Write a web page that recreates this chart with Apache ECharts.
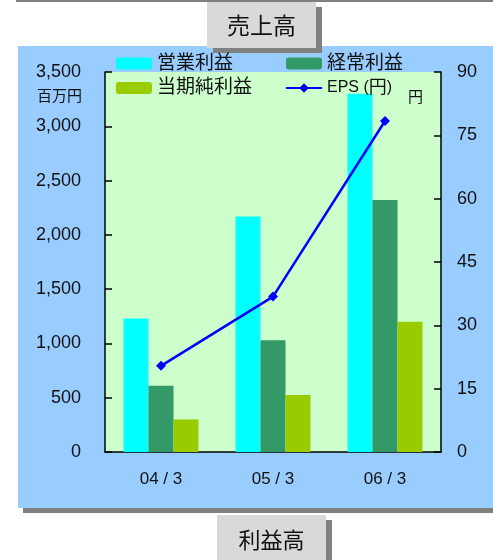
<!DOCTYPE html>
<html>
<head>
<meta charset="utf-8">
<script src="https://cdn.jsdelivr.net/npm/echarts@6/dist/echarts.min.js"></script>
<style>
  html, body { margin: 0; padding: 0; background: #ffffff; }
  #chart { width: 493px; height: 560px; }
</style>
</head>
<body>
<div id="chart"></div>
<script>
// Fiscal periods
var categories = ['04/3', '05/3', '06/3'];
// Profits, million yen
var operatingProfit = [1230, 2170, 3300];
var ordinaryProfit = [610, 1030, 2320];
var netProfit = [300, 525, 1200];
// Earnings per share, yen
var eps = [20.4, 36.8, 78.4];
// Axis ticks
var leftTicks = { min: 0, max: 3500, interval: 500 };
var rightTicks = { min: 0, max: 90, interval: 15 };

var FONT = "'Liberation Sans', 'Noto Sans CJK JP', sans-serif";
var chart = echarts.init(document.getElementById('chart'), null, { renderer: 'canvas' });

function boxWithShadow(x, y, w, h, label, cy, size) {
  return [
    { type: 'rect', z: -3, shape: { x: x + 6, y: y + 5, width: w, height: h }, style: { fill: '#808080' } },
    { type: 'rect', z: -2, shape: { x: x, y: y, width: w, height: h }, style: { fill: '#D9D9D9' } },
    { type: 'text', z: -1, x: x + w / 2, y: cy,
      style: { text: label, fill: '#111', font: size + 'px ' + FONT, textAlign: 'center', textVerticalAlign: 'middle' } }
  ];
}

var legendText = { fontSize: 19, lineHeight: 19, color: '#111', fontFamily: FONT };

var option = {
  backgroundColor: '#ffffff',
  textStyle: { fontFamily: FONT },
  animation: false,
  graphic: [].concat(
    [
      { type: 'rect', z: -9, shape: { x: 16, y: 0, width: 477, height: 2 }, style: { fill: '#808080' } },
      { type: 'rect', z: -8, shape: { x: 23, y: 51, width: 475, height: 462 }, style: { fill: '#808080' } },
      { type: 'rect', z: -7, shape: { x: 18, y: 46, width: 475, height: 462 }, style: { fill: '#99CCFF' } }
    ],
    boxWithShadow(207, 2, 109, 46, '売上高', 27.5, 23),
    boxWithShadow(217, 515, 109, 50, '利益高', 541.5, 22),
    [
      { type: 'text', z: 5, x: 82, y: 97,
        style: { text: '百万円', fill: '#111', font: '15px ' + FONT, textAlign: 'right', textVerticalAlign: 'middle' } },
      { type: 'text', z: 5, x: 408, y: 98,
        style: { text: '円', fill: '#111', font: '15px ' + FONT, textAlign: 'left', textVerticalAlign: 'middle' } }
    ]
  ),
  legend: [
    {
      left: 116, top: 54, padding: 0, orient: 'vertical',
      itemWidth: 36, itemHeight: 12, itemGap: 5.5,
      data: ['営業利益', '当期純利益'],
      textStyle: legendText
    },
    {
      left: 285, top: 54, padding: 0, orient: 'vertical',
      itemWidth: 36, itemHeight: 12, itemGap: 5.5,
      data: ['経常利益', 'EPS(円)'],
      formatter: function (name) {
        return name === 'EPS(円)' ? '{s|EPS (}{k|円}{s|)}' : name;
      },
      textStyle: Object.assign({}, legendText, {
        rich: {
          s: { fontSize: 16, lineHeight: 19, color: '#111', fontFamily: FONT },
          k: { fontSize: 18, lineHeight: 19, color: '#111', fontFamily: FONT }
        }
      })
    }
  ],
  grid: {
    left: 105, top: 72, width: 336, height: 380,
    show: true, backgroundColor: '#CCFFCC', borderWidth: 0
  },
  xAxis: {
    type: 'category',
    data: categories,
    axisLine: { lineStyle: { color: '#000', width: 1.5 } },
    axisTick: { inside: true, length: 7, lineStyle: { color: '#000', width: 1.5 } },
    axisLabel: {
      margin: 19, fontSize: 17, color: '#111',
      formatter: function (v) { return v.replace('/', ' / '); }
    }
  },
  yAxis: [
    {
      type: 'value', position: 'left',
      min: leftTicks.min, max: leftTicks.max, interval: leftTicks.interval,
      axisLine: { show: true, lineStyle: { color: '#000', width: 1.5 } },
      axisTick: { show: true, inside: true, length: 7, lineStyle: { color: '#000', width: 1.5 } },
      splitLine: { show: false },
      axisLabel: {
        margin: 24, fontSize: 18, color: '#111',
        formatter: function (v) { return v.toLocaleString('en-US'); }
      }
    },
    {
      type: 'value', position: 'right',
      min: rightTicks.min, max: rightTicks.max, interval: rightTicks.interval,
      axisLine: { show: true, lineStyle: { color: '#000', width: 1.5 } },
      axisTick: { show: true, inside: true, length: 7, lineStyle: { color: '#000', width: 1.5 } },
      splitLine: { show: false },
      axisLabel: { margin: 16, fontSize: 18, color: '#111' }
    }
  ],
  series: [
    { name: '営業利益', type: 'bar', data: operatingProfit, barWidth: 25, barGap: '0%',
      itemStyle: { color: '#00FFFF' } },
    { name: '経常利益', type: 'bar', data: ordinaryProfit, barWidth: 25, barGap: '0%',
      itemStyle: { color: '#339966' } },
    { name: '当期純利益', type: 'bar', data: netProfit, barWidth: 25, barGap: '0%',
      itemStyle: { color: '#99CC00' } },
    { name: 'EPS(円)', type: 'line', yAxisIndex: 1, data: eps, z: 5,
      symbol: 'diamond', symbolSize: 10, showSymbol: true,
      lineStyle: { color: '#0000FF', width: 2.5 },
      itemStyle: { color: '#0000FF' } }
  ]
};

chart.setOption(option);
</script>
</body>
</html>
